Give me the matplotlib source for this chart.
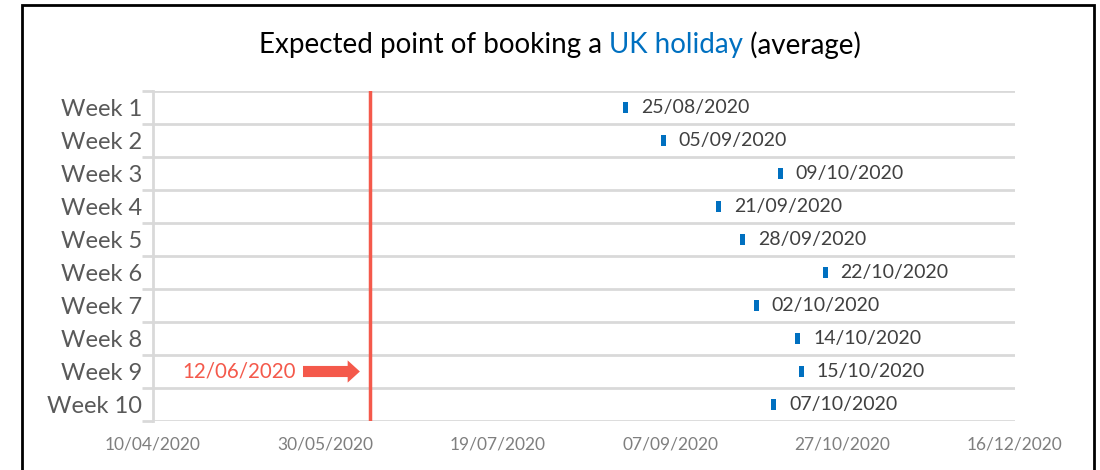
import matplotlib
matplotlib.use("Agg")
import matplotlib.pyplot as plt
import matplotlib.dates as mdates
from matplotlib.patches import Rectangle
import pandas as pd
import numpy as np

weeks = ["Week 1", "Week 2", "Week 3", "Week 4", "Week 5",
         "Week 6", "Week 7", "Week 8", "Week 9", "Week 10"]
booking_dates = ["25/08/2020", "05/09/2020", "09/10/2020", "21/09/2020", "28/09/2020",
                 "22/10/2020", "02/10/2020", "14/10/2020", "15/10/2020", "07/10/2020"]
today_label = "12/06/2020"
axis_start = "10/04/2020"
axis_end = "16/12/2020"

BLUE = "#0070C0"
RED = "#F4594B"
GREY = "#595959"
GRID = "#D9D9D9"

dates = pd.to_datetime(booking_dates, dayfirst=True)
xnum = mdates.date2num(dates.to_pydatetime())
today = mdates.date2num(pd.to_datetime(today_label, dayfirst=True).to_pydatetime())
x0 = mdates.date2num(pd.to_datetime(axis_start, dayfirst=True).to_pydatetime())
x1 = mdates.date2num(pd.to_datetime(axis_end, dayfirst=True).to_pydatetime())
ypos = np.arange(1, len(weeks) + 1)

fig = plt.figure(figsize=(11, 4.7), dpi=100)
ax = fig.add_axes([153 / 1100, 1 - 421 / 470, (1015 - 153) / 1100, (421 - 91) / 470])

# small blue markers as thin bars
ax.barh(ypos, 1.5, left=xnum - 0.75, height=0.36, color=BLUE, zorder=3)
for x, y, lab in zip(xnum, ypos, booking_dates):
    ax.annotate(lab, (x, y), xytext=(11, 0), textcoords="offset points",
                va="center", ha="left", fontsize=14, color="#404040",
                family="Lato")

# red line for today's date
ax.axvline(today, color=RED, lw=2.5, zorder=2)
ax.text(today - 21.5, 9, today_label, ha="right", va="center",
        fontsize=14.8, color=RED, family="Lato")
ax.annotate("", xy=(today - 3, 9), xytext=(today - 19.5, 9),
            arrowprops=dict(arrowstyle="simple,head_width=1.0,head_length=0.55,tail_width=0.5",
                            mutation_scale=16, color=RED, lw=0, shrinkA=0, shrinkB=0))

ax.set_xlim(x0, x1)
ax.set_ylim(10.5, 0.5)
ax.set_xticks(np.arange(x0, x1 + 1, 50))
ax.xaxis.set_major_formatter(mdates.DateFormatter("%d/%m/%Y"))
ax.set_yticks(ypos)
ax.set_yticklabels(weeks)
ax.set_yticks(np.arange(0.5, 11, 1), minor=True)
ax.grid(which="minor", axis="y", color=GRID, lw=2)
ax.tick_params(axis="y", which="major", length=0, pad=8, labelsize=17, labelcolor=GREY)
ax.tick_params(axis="y", which="minor", length=8, width=2, color=GRID, direction="out")
ax.tick_params(axis="x", length=0, pad=11, labelsize=12.5, labelcolor="#7F7F7F")
for lab in ax.get_yticklabels() + ax.get_xticklabels():
    lab.set_family("Lato")
for s in ["top", "right", "bottom"]:
    ax.spines[s].set_visible(False)
ax.spines["left"].set_color(GRID)
ax.spines["left"].set_linewidth(2)

# title with coloured middle part
parts = [("Expected point of booking a ", "black"), ("UK holiday", BLUE), (" (average)", "black")]
r = fig.canvas.get_renderer()
texts = []
for s, c in parts:
    texts.append(fig.text(0, 0.904, s, color=c, fontsize=20, family="Lato", va="center"))
widths = [t.get_window_extent(r).width for t in texts]
xstart = 560 - sum(widths) / 2
for t, w in zip(texts, widths):
    t.set_x(xstart / 1100)
    xstart += w

fig.add_artist(Rectangle((22 / 1100, -0.05), (1094 - 22) / 1100, 1.05 - 5 / 470,
                         transform=fig.transFigure, fill=False, lw=2, ec="black"))

fig.savefig("out.png", dpi=100)
